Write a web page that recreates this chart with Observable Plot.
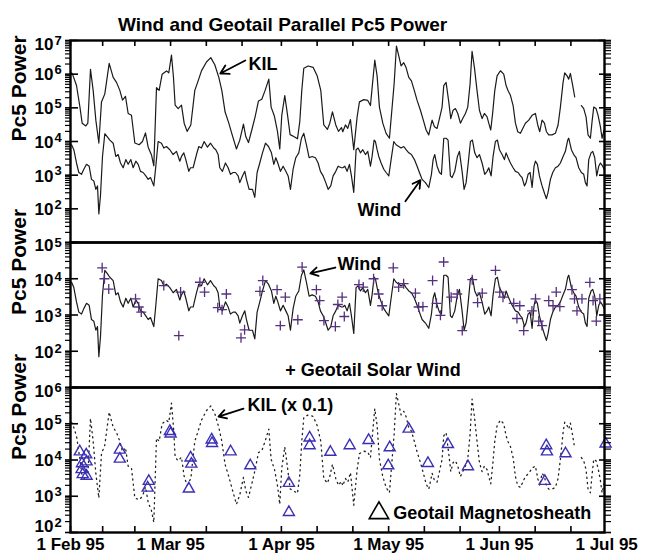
<!DOCTYPE html>
<html><head><meta charset="utf-8">
<script src="https://cdn.jsdelivr.net/npm/d3@7"></script>
<script src="https://cdn.jsdelivr.net/npm/@observablehq/plot@0.6"></script>
<style>
body{margin:0;background:#fff;}
#chart{position:relative;width:646px;height:559px;}
#chart svg{position:absolute;left:0;top:0;}
</style></head><body><div id="chart"></div>
<script>
// ---------- data (days counted from 1 Feb 1995) ----------
const kilDay = [0.3,0.56,1.68,2.61,3.26,4.29,4.85,5.59,6.34,7.09,7.93,8.67,9.6,10.82,11.94,12.87,13.8,14.55,15.38,16.13,17.06,18.0,19.21,20.14,20.98,21.73,22.66,23.31,24.06,24.8,25.64,26.85,27.5,28.25,28.81,29.28,30.12,31.05,31.8,32.63,33.66,34.78,35.71,36.64,38.04,39.25,40.37,41.49,42.33,43.26,44.29,45.22,46.43,47.36,48.39,49.04,49.79,50.72,51.65,52.59,53.52,54.45,55.48,56.13,57.06,57.9,58.55,59.11,59.95,60.6,61.44,62.47,63.5,64.15,64.71,65.27,66.48,67.88,69.0,70.02,70.86,71.89,72.54,73.29,74.22,74.97,75.8,76.18,76.92,77.57,78.32,79.25,80.19,80.84,82.05,83.17,83.92,84.57,85.13,85.78,86.43,87.37,88.3,89.23,89.98,90.54,91.19,91.84,92.49,93.24,93.89,94.64,95.38,96.22,96.97,97.9,98.83,99.49,100.23,101.17,101.82,102.56,103.22,103.96,104.43,105.08,105.83,106.39,107.04,107.69,108.35,109.09,109.74,110.49,111.14,111.79,112.35,113.01,113.75,114.41,115.15,115.8,116.55,117.02,117.58,118.14,118.69,119.35,120.28,121.21,121.87,122.43,123.08,123.83,124.48,125.13,125.88,126.53,127.27,128.21,129.14,130.07,130.72,131.28,131.93,132.59,133.15,133.8,134.73,135.66,136.41,137.06,137.81,138.27,138.93,139.39,139.86,140.51,141.07,142.0,142.93,143.59,144.24,144.8,145.45,145.92,146.39,147.04,147.6,148.25,148.72,149.28];
const kilPower = [1.1e6,1e6,4.6e5,1.1e5,3.5e4,2.9e4,3.5e4,1.4e6,3.3e5,4.3e4,9e3,1.5e5,2.6e5,2.1e6,8e5,5.7e5,3.3e5,1.7e5,2.2e5,6.8e4,6e4,9e3,8e3,1e4,1.8e4,6.8e3,4e3,1.9e3,4e5,3.3e5,1e6,1.25e6,1.1e6,3.7e6,8e5,1.2e5,9.5e4,1.2e5,3.5e4,2e4,3.1e4,3.3e5,6.3e5,1.25e6,2.3e6,3.1e6,1.9e6,8e5,3.3e5,7.5e4,3.5e4,1.6e4,6e3,1.1e4,3.3e4,1.4e4,9.3e3,2.2e4,5.4e4,1.6e5,1.8e5,3.3e5,7.1e5,1.05e5,5.6e4,2e4,6e3,6e4,2.3e5,7.6e4,1.6e4,1.4e4,1.2e4,3.9e4,3.3e5,1.5e6,1.75e6,1.6e6,9e5,3.3e5,3.1e4,2.3e4,3.5e4,7.6e4,3.1e4,2e4,2.6e4,1.95e4,3.1e4,2.45e4,4.5e4,5.7e3,5.4e4,1.5e5,1.75e5,1.66e5,1.17e5,6.3e5,2.6e6,8.9e5,1.05e5,3.5e4,1.75e4,1.25e4,1.05e5,5.1e5,6.8e6,3.5e6,1.75e6,2.2e6,1.57e6,8e5,6.3e5,3.2e5,1.66e5,8.5e4,3.9e4,2.2e4,1.57e4,4.3e4,2.75e4,2.45e4,4.8e4,1.05e5,4.6e5,5.7e5,1.5e5,4.8e4,8.5e4,9.5e4,6.8e4,3.5e4,4.8e4,6.8e4,1.05e5,5.1e5,4.8e6,1.57e6,3.2e5,8.5e4,4.8e4,6.8e4,5.4e4,3.5e4,2.2e4,7.6e4,3.2e5,8.9e5,1.26e6,1e6,4.6e5,3.2e5,2.35e5,1.17e5,3.5e4,1.95e4,1.75e4,2.45e4,3.5e4,4.3e4,6e4,6.8e4,3.1e4,1.95e4,4.3e4,3.5e4,1.95e4,1.57e4,1.57e4,1.75e4,3.1e4,1.05e5,5.7e5,1.1e6,8.9e5,7.1e5,1.05e6,4.6e5,2.1e5,null,1.17e5,9.5e4,5.4e4,1.57e4,1.25e4,3.9e4,1.05e5,9.5e4,6e4,2.75e4,1.25e4,2.2e4];

const windDay = [0.3,0.93,1.68,2.33,3.08,3.73,4.48,5.22,5.87,6.53,7.09,7.55,7.93,8.39,8.95,9.6,10.26,11.0,11.94,12.68,13.33,13.99,14.73,15.48,16.13,16.88,17.53,18.28,18.93,19.58,20.33,21.07,21.73,22.38,23.31,23.87,24.52,25.45,26.11,26.85,27.79,28.72,29.65,30.58,31.05,31.7,32.26,33.1,33.57,34.31,35.24,35.9,36.64,37.39,38.32,39.16,40.09,40.65,41.3,41.77,42.51,43.35,44.1,44.75,45.5,46.15,46.9,47.36,48.11,48.76,49.23,49.97,50.91,51.56,52.21,52.96,53.71,54.55,55.39,56.22,56.88,57.44,58.0,58.74,59.49,60.24,60.89,61.54,62.28,63.03,63.87,64.62,65.27,66.01,66.76,67.6,68.53,69.28,69.93,70.68,71.42,72.08,72.82,73.47,74.22,74.87,75.8,76.18,76.74,77.39,78.04,78.6,79.25,79.9,80.47,81.12,81.77,82.52,83.17,83.92,84.38,84.94,85.31,85.78,86.25,86.9,87.65,88.3,89.05,89.7,90.45,91.1,91.84,92.49,93.24,93.89,94.64,95.38,96.22,96.97,97.62,98.37,99.3,100.23,100.98,101.45,101.91,102.56,103.22,103.78,104.43,105.08,105.64,106.29,106.76,107.51,108.25,108.81,109.56,110.12,110.68,111.24,111.89,112.45,113.1,113.75,114.41,115.15,115.9,116.55,117.02,117.67,118.23,118.88,119.44,120.0,120.75,121.4,121.87,122.43,123.08,123.83,124.48,125.23,125.88,126.34,127.0,127.46,128.02,128.58,129.14,129.7,130.07,130.63,131.19,131.93,132.68,133.15,133.61,134.27,134.92,135.66,136.41,137.06,137.81,138.46,139.11,139.39,140.14,140.79,141.44,142.19,142.93,143.59,144.05,144.52,144.99,145.64,146.11,146.67,147.23,147.79,148.25,148.9,149.28];
const windPower = [8e3,5.7e3,2.3e3,1.2e3,1.06e3,1.5e3,2.1e3,1.85e3,750,670,380,480,71,250,3.6e3,1.7e4,1.4e4,1.1e4,8.9e3,3.6e3,4.1e3,2.3e3,1.66e3,2.9e3,2.1e3,2.9e3,1.66e3,2.6e3,2.1e3,1.3e3,1.2e3,950,750,850,480,1.85e3,1e4,8.9e3,6.4e3,7.1e3,5.7e3,4.1e3,5.1e3,2.6e3,3.6e3,4.6e3,2.9e3,1.3e3,1.66e3,1.66e3,4.1e3,7.1e3,6.4e3,1e4,6.8e3,8.9e3,6.4e3,5.7e3,4.1e3,1.66e3,1.3e3,2.3e3,1.66e3,1.06e3,1.2e3,1.2e3,950,600,950,1.3e3,750,380,380,220,1.2e3,2.3e3,4.6e3,8.9e3,7.1e3,4.6e3,2.1e3,3.3e3,2.3e3,1.3e3,1.85e3,1.3e3,950,380,1.5e3,3.3e3,4.6e3,1.25e4,1.75e4,8e3,3.3e3,3.6e3,3.3e3,2.3e3,1.3e3,950,600,380,480,950,1.3e3,1.85e3,1.66e3,1.66e3,1.85e3,1.3e3,2.1e3,950,310,5.7e3,6.4e3,4.6e3,5.7e3,4.1e3,5.1e3,1.85e3,3.6e3,1.1e4,1e4,5.7e3,3.6e3,2.3e3,1.5e3,1.2e3,950,2.9e3,1e4,8e3,7.1e3,6.4e3,7.1e3,5.7e3,4.6e3,4.1e3,2.9e3,1.85e3,1.2e3,750,600,430,1.06e3,2.9e3,4.1e3,1.85e3,1.2e3,1.06e3,1.25e4,1.25e4,1.1e4,950,850,1.3e3,3.6e3,5.1e3,1.3e3,380,600,2.1e3,1e4,1.1e4,4.6e3,3.3e3,4.1e3,2.3e3,1.06e3,1.3e3,1.66e3,950,3.6e3,1e4,1.1e4,5.7e3,4.1e3,2.9e3,4.6e3,3.3e3,2.3e3,1.66e3,1.3e3,1.2e3,950,850,480,600,1.06e3,1.2e3,430,1.85e3,2.6e3,2.1e3,950,480,275,200,310,750,1.2e3,1.66e3,1.85e3,2.3e3,3.6e3,5.1e3,1.1e4,1.25e4,5.7e3,4.1e3,3.3e3,1.66e3,1.2e3,1.06e3,600,480,2.9e3,4.6e3,5.1e3,3.3e3,950,1.85e3,2.3e3,1.85e3,1.5e3];

// Geotail in the solar wind (+)
const swDay = [8.86,9.5,10.7,18.2,19.1,19.8,26.1,30.3,30.8,36.2,37.5,41.2,42.4,43.6,47.7,48.7,53.0,53.8,57.8,58.7,60.1,63.6,64.8,68.8,69.7,70.9,74.1,74.8,76.0,76.6,80.7,81.9,84.8,86.2,87.2,90.3,91.8,93.2,96.5,97.4,98.6,101.3,102.4,103.5,104.4,106.5,108.2,109.6,112.4,113.9,115.2,118.9,120.1,121.0,124.0,124.9,125.7,126.8,129.1,130.1,131.0,131.9,133.8,135.0,135.9,136.9,140.3,141.0,141.7,143.1,145.3,146.2,147.1,148.1];
const swPower = [2e4,1e4,5.2e3,2.8e3,1.66e3,1.2e3,6.5e3,270,4.3e3,8e3,4.3e3,1.6e3,1.4e3,3.8e3,235,390,4.5e3,8.9e3,5e3,510,3.1e3,740,2.1e4,5e3,2.5e3,700,480,1.95e3,3.1e3,910,6.9e3,5.9e3,1e4,3.8e3,1.8e3,2e4,5.9e3,7.3e3,4e3,1.66e3,1.7e3,8.9e3,2.1e3,980,2.9e4,3.1e3,3.8e3,370,9.4e3,2.2e3,4e3,1.7e4,4.3e3,3.1e3,2.1e3,800,1.8e3,370,1.3e3,2.8e3,680,510,2.5e3,1.8e3,4.3e3,1.7e3,5e3,2.8e3,1.3e3,2.8e3,7.9e3,2.5e3,680,2.8e3];

// Geotail in the magnetosheath (triangles)
const shDay = [2.6,3.1,3.2,3.4,4.4,4.5,4.5,13.8,13.8,21.6,21.9,27.8,28.0,33.1,33.6,33.8,39.5,39.6,44.8,50.3,61.1,61.1,66.9,66.9,72.7,78.1,83.4,88.9,89.3,94.6,100.0,105.6,111.2,132.7,133.1,133.3,138.5,149.7];
const shPower = [1.7e4,5.5e3,8e3,4e3,1.4e4,9e3,3.6e3,1.9e4,1.07e4,1.7e3,2.6e3,6.2e4,5.3e4,1.6e3,1.15e4,7.8e3,3.6e4,2.9e4,1.7e4,7e3,2.3e3,360,4.1e4,2.5e4,1.65e4,2.5e4,3.5e4,7e3,2.2e4,7.2e4,8.1e3,2.7e4,6.6e3,2.6e3,2.5e4,1.7e4,1.5e4,2.8e4];

const monthTicks = ["1995-02-01","1995-03-01","1995-04-01","1995-05-01","1995-06-01","1995-07-01"];
const monthLabels = ["1 Feb 95","1 Mar 95","1 Apr 95","1 May 95","1 Jun 95","1 Jul 95"];
const minorDates = ["1995-02-10","1995-02-19","1995-03-11","1995-03-21","1995-04-11","1995-04-21","1995-05-11","1995-05-21","1995-06-11","1995-06-21"];

const title = "Wind and Geotail Parallel Pc5 Power";
const yTitle = "Pc5 Power";

// annotations in data coordinates
const topNotes = [{day: 49.8, power: 2e6, text: "KIL"}, {day: 80.3, power: 90, text: "Wind"}];
const topArrows = [{d1: 48.9, p1: 2.55e6, d2: 41.9, p2: 1.05e6}, {d1: 93.7, p1: 167, d2: 97.9, p2: 710}];
const midNotes = [{day: 74.7, power: 2.47e4, text: "Wind"}, {day: 60.1, power: 29.5, text: "+ Geotail Solar Wind"}];
const midArrows = [{d1: 74.1, p1: 2.04e4, d2: 67.1, p2: 1.4e4}];
const botNotes = [{day: 49.5, power: 3.2e5, text: "KIL (x 0.1)"}, {day: 90.3, power: 340, text: "Geotail Magnetosheath"}];
const botArrows = [{d1: 48.4, p1: 2.6e5, d2: 41.4, p2: 1.58e5}];
const botKey = [{day: 86.3, power: 345}];

// ---------- build ----------
const base = Date.UTC(1995, 1, 1);
const toDate = d => new Date(base + d * 864e5);
const rows = (days, vals) => days.map((d, i) => ({date: toDate(d), power: vals[i]}));
const kil = rows(kilDay, kilPower);
const wind = rows(windDay, windPower);
const sw = rows(swDay, swPower);
const sh = rows(shDay, shPower);

const W = 646, H = 559, L = 70, R = 604;
const FW = R - L;
const xDomain = [toDate(0), toDate(149.4)];
const font = "'Liberation Sans', Arial, Helvetica, sans-serif";

// labels: [exponent, dy of "10", dy of exponent]
function axisMarks(lo, hi, labels) {
  const major = [], minor = [];
  for (let e = Math.round(Math.log10(lo)); e <= Math.round(Math.log10(hi)); e++) {
    major.push(Math.pow(10, e));
    for (let m = 2; m <= 9; m++) { const v = m * Math.pow(10, e); if (v < hi) minor.push(v); }
  }
  const marks = [
    Plot.tickY(minor, {y: d => d, insetRight: FW - 5, dx: -5, stroke: "#000", strokeWidth: 1.2}),
    Plot.tickY(major, {y: d => d, insetRight: FW - 13, dx: -5, stroke: "#000", strokeWidth: 1.6}),
    Plot.tickY(minor, {y: d => d, insetLeft: FW - 7, dx: 7, stroke: "#000", strokeWidth: 1.2}),
    Plot.tickY(major, {y: d => d, insetLeft: FW - 12, dx: 7, stroke: "#000", strokeWidth: 1.6}),
    Plot.text([yTitle], {frameAnchor: "left", text: d => d, rotate: -90, dx: -51, fontSize: 21, fontWeight: "bold", fill: "#000"}),
    Plot.frame({stroke: "#000", strokeWidth: 2.4})
  ];
  for (const [e, dyBase, dyExp] of labels) {
    const v = [Math.pow(10, e)];
    marks.push(
      Plot.text(v, {y: d => d, frameAnchor: "left", text: () => "10", dx: -17, dy: dyBase, textAnchor: "end", fontSize: 17, fontWeight: "bold", fill: "#000"}),
      Plot.text(v, {y: d => d, frameAnchor: "left", text: () => String(e), dx: -16, dy: dyExp, textAnchor: "start", fontSize: 13, fontWeight: "bold", fill: "#000"})
    );
  }
  return marks;
}

function notes(list, arrows) {
  return [
    Plot.text(list, {x: d => toDate(d.day), y: "power", text: "text", textAnchor: "start", fontSize: 18, fontWeight: "bold", fill: "#000"}),
    Plot.arrow(arrows, {x1: d => toDate(d.d1), y1: "p1", x2: d => toDate(d.d2), y2: "p2", stroke: "#000", strokeWidth: 1.8, headLength: 9})
  ];
}

const common = (top, bottom, domain) => ({
  width: W, height: H, marginLeft: L, marginRight: W - R, marginTop: top, marginBottom: H - bottom,
  x: {type: "utc", domain: xDomain, axis: null},
  y: {type: "log", domain, axis: null},
  style: {fontFamily: font, background: "transparent", overflow: "visible"}
});

const minorTickDates = minorDates.map(s => new Date(s));
const majorTickDates = monthTicks.map(s => new Date(s)).filter(d => d <= xDomain[1]);
const allTicks = majorTickDates.concat(minorTickDates);

// top panel
const p1 = Plot.plot({
  ...common(40, 242, [10, 1e7]),
  marks: [
    Plot.line(kil, {x: "date", y: "power", stroke: "#1a1a1a", strokeWidth: 1.2}),
    Plot.line(wind, {x: "date", y: "power", stroke: "#1a1a1a", strokeWidth: 1.2}),
    Plot.tickX(allTicks, {x: d => d, insetBottom: 202 - 6, stroke: "#000", strokeWidth: 1.6}),
    ...notes(topNotes, topArrows),
    ...axisMarks(10, 1e7, [[2,1,-4],[3,1,-4],[4,1,-4],[5,1,-4],[6,0,-4.5],[7,4.5,0]]),
    Plot.text([title], {frameAnchor: "top", text: d => d, dx: -55, dy: -23, fontSize: 19, fontWeight: "bold", fill: "#000"})
  ]
});

// middle panel
const p2 = Plot.plot({
  ...common(242, 387, [10, 1e5]),
  marks: [
    Plot.line(wind, {x: "date", y: "power", stroke: "#1a1a1a", strokeWidth: 1.2}),
    Plot.dot(sw, {x: "date", y: "power", symbol: "plus", r: 3.3, stroke: "#55307f", strokeWidth: 1.3}),
    ...notes(midNotes, midArrows),
    ...axisMarks(10, 1e5, [[2,1.5,-2.5],[3,1.5,-2.5],[4,2,-1.5],[5,3,0]])
  ]
});

// bottom panel
const p3 = Plot.plot({
  ...common(387, 532, [100, 1e6]),
  marks: [
    Plot.line(kil, {x: "date", y: d => d.power == null ? null : d.power * 0.1, stroke: "#222", strokeWidth: 1.3, strokeDasharray: "1.2,4"}),
    Plot.dot(sh, {x: "date", y: "power", symbol: "triangle", r: 4.1, stroke: "#3a2fb5", strokeWidth: 1.4, fill: "none"}),
    Plot.dot(botKey, {x: d => toDate(d.day), y: "power", symbol: "triangle", r: 7.2, stroke: "#000", strokeWidth: 1.6, fill: "none"}),
    Plot.tickX(allTicks, {x: d => d, insetTop: 145 - 6, stroke: "#000", strokeWidth: 1.6}),
    ...notes(botNotes, botArrows),
    ...axisMarks(100, 1e6, [[2,-6,-10],[3,0.5,-4],[4,1,-4],[5,1,-4],[6,4,0]]),
    Plot.text(monthTicks.map((s, i) => ({date: new Date(s), label: monthLabels[i]})), {x: "date", text: "label", frameAnchor: "bottom", dy: 17.5, fontSize: 17, fontWeight: "bold", fill: "#000"})
  ]
});

const host = document.getElementById("chart");
host.append(p1, p2, p3);
</script></body></html>
